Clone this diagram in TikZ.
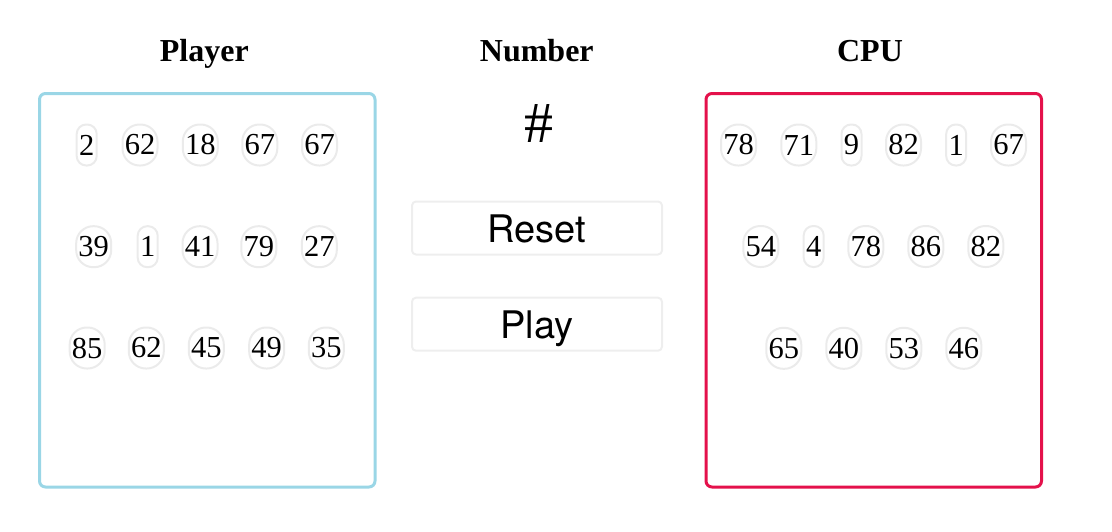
\documentclass[tikz,border=0pt]{standalone}
\usepackage{fontspec}
\setmainfont{Liberation Serif}
\newfontfamily\btnfont{TeX Gyre Heros}
\definecolor{pillgray}{HTML}{EBEBEB}
\definecolor{btngray}{HTML}{EEEEEE}
\definecolor{playerblue}{HTML}{9AD6E6}
\definecolor{cpured}{HTML}{E4114B}
\tikzset{
  heading/.style={anchor=base, inner sep=0pt, font=\bfseries\fontsize{32}{38}\selectfont},
  pillbase/.style={draw=pillgray, line width=2pt, inner sep=0pt, minimum height=41pt,
    font=\fontsize{30.5}{36}\selectfont},
  dd/.style={pillbase, minimum width=35pt, rounded corners=17pt},
  sd/.style={pillbase, minimum width=20pt, rounded corners=9.5pt},
  button/.style={draw=btngray, line width=2pt, rounded corners=4pt, minimum width=250pt,
    minimum height=53pt, inner sep=0pt, text height=29pt, text depth=0pt,
    font=\btnfont\fontsize{38}{45}\selectfont},
  panel/.style={line width=3pt, rounded corners=6pt}
}
\begin{document}
\begin{tikzpicture}[x=1pt,y=-1pt]
\useasboundingbox (0,0) rectangle (1112,531);
% headings
\node[heading] (hplayer) at (204.3,61.5) {Player};
\node[heading] (hnumber) at (536.8,61.5) {Number};
\node[heading] (hcpu) at (870,61.5) {CPU};
% panels
\draw[panel, draw=playerblue] (39.5,93.5) rectangle (375,487);
\draw[panel, draw=cpured] (706,93.5) rectangle (1041.5,487);
% number display and buttons
\node[anchor=base, inner sep=0pt, font=\fontsize{58}{64}\selectfont] (hash) at (538.5,142) {\#};
\node[button] (reset) at (537,228) {Reset};
\node[button] (play) at (537,324.2) {Play};
% player numbers
\node[sd] (p11) at (86.7,145) {2};
\node[dd] (p12) at (140,145) {62};
\node[dd] (p13) at (200.3,145) {18};
\node[dd] (p14) at (259.8,145) {67};
\node[dd] (p15) at (319.5,145) {67};
\node[dd] (p21) at (93.7,246.7) {39};
\node[sd] (p22) at (147.7,246.7) {1};
\node[dd] (p23) at (200,246.7) {41};
\node[dd] (p24) at (258.8,246.7) {79};
\node[dd] (p25) at (319.3,246.7) {27};
\node[dd] (p31) at (87.2,348) {85};
\node[dd] (p32) at (146.3,348) {62};
\node[dd] (p33) at (206.3,348) {45};
\node[dd] (p34) at (266.7,348) {49};
\node[dd] (p35) at (326.3,348) {35};
% cpu numbers
\node[dd] (c11) at (738.5,145) {78};
\node[dd] (c12) at (798.8,145) {71};
\node[sd] (c13) at (851.5,145) {9};
\node[dd] (c14) at (903.5,145) {82};
\node[sd] (c15) at (956.2,145) {1};
\node[dd] (c16) at (1008.5,145) {67};
\node[dd] (c21) at (760.8,246.5) {54};
\node[sd] (c22) at (813.7,246.5) {4};
\node[dd] (c23) at (865.8,246.5) {78};
\node[dd] (c24) at (925.8,246.5) {86};
\node[dd] (c25) at (985.8,246.5) {82};
\node[dd] (c31) at (783.8,348.3) {65};
\node[dd] (c32) at (843.8,348.3) {40};
\node[dd] (c33) at (903.8,348.3) {53};
\node[dd] (c34) at (963.8,348.3) {46};
\end{tikzpicture}
\end{document}
